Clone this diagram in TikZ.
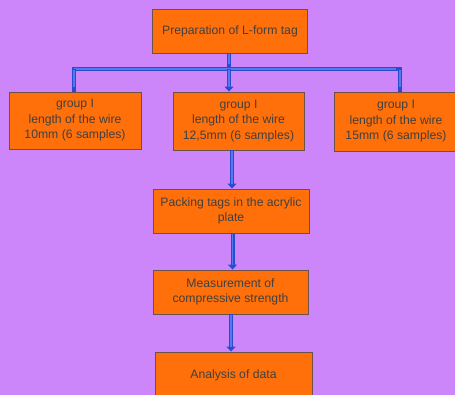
\documentclass[tikz,border=0pt]{standalone}
\usepackage{fontspec}
\setmainfont{Liberation Sans}
\usetikzlibrary{arrows.meta}
\definecolor{bgpurple}{RGB}{204,134,250}
\definecolor{boxorange}{RGB}{255,112,10}
\definecolor{boxedge}{RGB}{110,80,70}
\definecolor{linkblue}{RGB}{40,75,210}
\definecolor{linklight}{RGB}{85,120,235}
\begin{document}
\begin{tikzpicture}[x=1pt,y=-1pt,
  stepbox/.style={draw=boxedge, line width=0.9pt, fill=boxorange, align=center,
    font=\fontsize{12.2}{15.5}\selectfont, text=black!75, inner sep=0pt},
  link/.style={draw=linkblue, line width=4pt,
    postaction={draw=linklight, line width=1.2pt, shorten >=5pt, shorten <=1pt, -}},
  linkarrow/.style={link, -{Triangle[width=9pt,length=5pt]}}
]
\fill[bgpurple] (0,0) rectangle (455,395);
\useasboundingbox (0,0) rectangle (455,395);

\node[stepbox, minimum width=155pt, minimum height=44pt] (top) at (230,31) {Preparation of L-form tag};
\node[stepbox, minimum width=132pt, minimum height=57pt] (g1) at (75,120.5) {group I\\length of the wire\\10mm (6 samples)};
\node[stepbox, minimum width=131pt, minimum height=58pt] (g2) at (238.5,121) {group I\\length of the wire\\12,5mm (6 samples)};
\node[stepbox, minimum width=124pt, minimum height=59pt] (g3) at (396,121.5) {group I\\length of the wire\\15mm (6 samples)};
\node[stepbox, minimum width=156pt, minimum height=44pt] (pack) at (231,211) {Packing tags in the acrylic\\plate};
\node[stepbox, minimum width=155pt, minimum height=44pt] (meas) at (230.5,292) {Measurement of\\compressive strength};
\node[stepbox, minimum width=157pt, minimum height=46pt] (anal) at (233.5,375) {Analysis of data};

\coordinate (hub) at (229,69);
\coordinate (bl) at (74,69);
\coordinate (br) at (400,69);

\draw[link] (top.south -| hub) -- (hub);
\draw[link, line cap=rect] (bl) -- (br);
\draw[link] (bl) -- (g1.north -| bl);
\draw[link] (br) -- (g3.north -| br);
\draw[linkarrow] (hub) -- (g2.north -| hub);
\draw[linkarrow] (g2.south -| 232,0) -- (pack.north -| 232,0);
\draw[linkarrow] (pack.south -| 232.5,0) -- (meas.north -| 232.5,0);
\draw[linkarrow] (meas.south -| 231,0) -- (anal.north -| 231,0);
\end{tikzpicture}
\end{document}
